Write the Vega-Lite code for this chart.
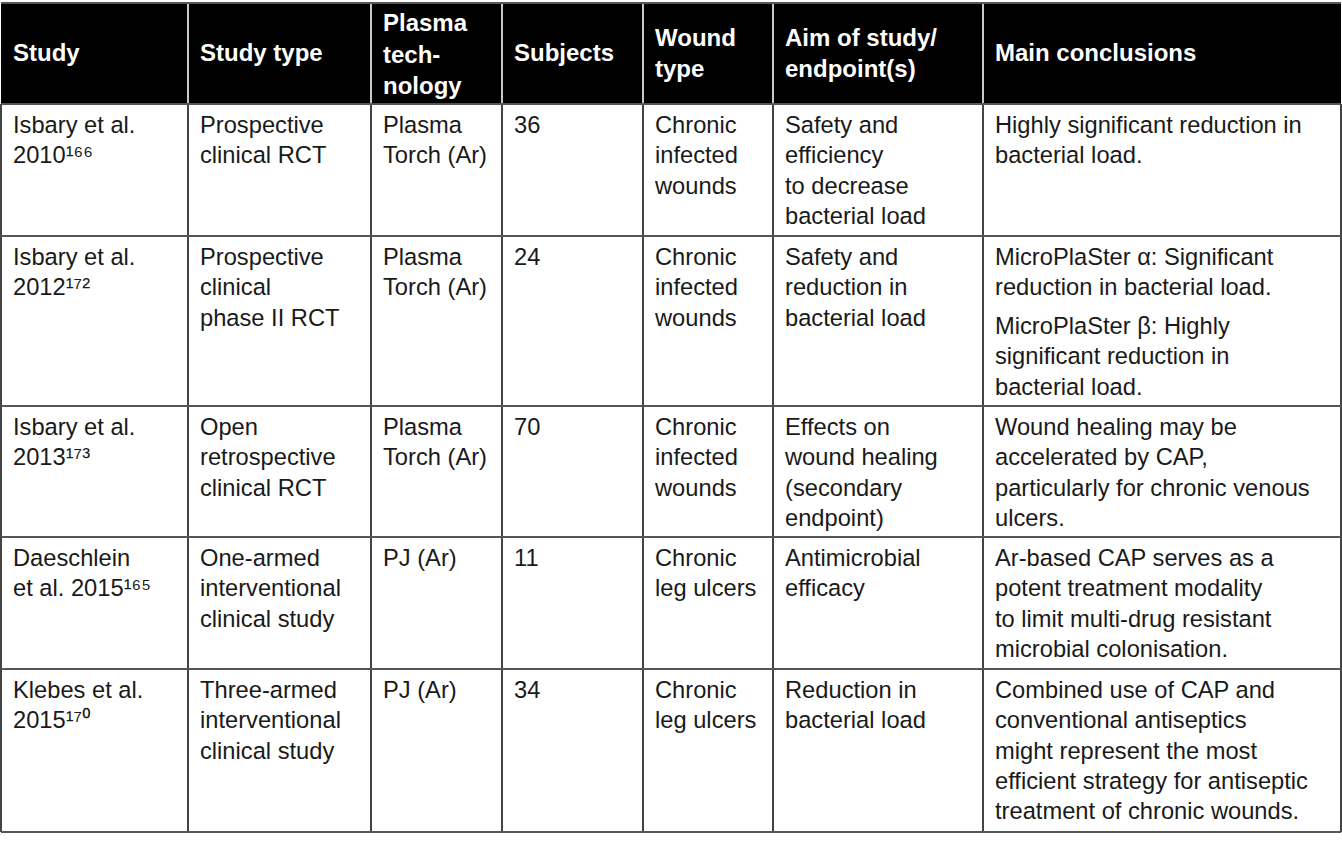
{
  "$schema": "https://vega.github.io/schema/vega-lite/v6.json",
  "width": 1342,
  "height": 843,
  "padding": 0,
  "autosize": {"type": "none"},
  "background": "white",
  "config": {"view": {"stroke": null}},
  "datasets": {
    "header": [
      {"row": 0, "col": 0, "lines": ["Study"]},
      {"row": 0, "col": 1, "lines": ["Study type"]},
      {"row": 0, "col": 2, "lines": ["Plasma", "tech-", "nology"]},
      {"row": 0, "col": 3, "lines": ["Subjects"]},
      {"row": 0, "col": 4, "lines": ["Wound", "type"]},
      {"row": 0, "col": 5, "lines": ["Aim of study/", "endpoint(s)"]},
      {"row": 0, "col": 6, "lines": ["Main conclusions"]}
    ],
    "body": [
      {"row": 1, "col": 0, "lines": ["Isbary et al.", "2010¹⁶⁶"]},
      {"row": 1, "col": 1, "lines": ["Prospective", "clinical RCT"]},
      {"row": 1, "col": 2, "lines": ["Plasma", "Torch (Ar)"]},
      {"row": 1, "col": 3, "lines": ["36"]},
      {"row": 1, "col": 4, "lines": ["Chronic", "infected", "wounds"]},
      {"row": 1, "col": 5, "lines": ["Safety and", "efficiency", "to decrease", "bacterial load"]},
      {"row": 1, "col": 6, "lines": ["Highly significant reduction in", "bacterial load."]},
      {"row": 2, "col": 0, "lines": ["Isbary et al.", "2012¹⁷²"]},
      {"row": 2, "col": 1, "lines": ["Prospective", "clinical", "phase II RCT"]},
      {"row": 2, "col": 2, "lines": ["Plasma", "Torch (Ar)"]},
      {"row": 2, "col": 3, "lines": ["24"]},
      {"row": 2, "col": 4, "lines": ["Chronic", "infected", "wounds"]},
      {"row": 2, "col": 5, "lines": ["Safety and", "reduction in", "bacterial load"]},
      {"row": 2, "col": 6, "lines": ["MicroPlaSter α: Significant", "reduction in bacterial load."]},
      {"row": 3, "col": 0, "lines": ["Isbary et al.", "2013¹⁷³"]},
      {"row": 3, "col": 1, "lines": ["Open", "retrospective", "clinical RCT"]},
      {"row": 3, "col": 2, "lines": ["Plasma", "Torch (Ar)"]},
      {"row": 3, "col": 3, "lines": ["70"]},
      {"row": 3, "col": 4, "lines": ["Chronic", "infected", "wounds"]},
      {"row": 3, "col": 5, "lines": ["Effects on", "wound healing", "(secondary", "endpoint)"]},
      {"row": 3, "col": 6, "lines": ["Wound healing may be", "accelerated by CAP,", "particularly for chronic venous", "ulcers."]},
      {"row": 4, "col": 0, "lines": ["Daeschlein", "et al. 2015¹⁶⁵"]},
      {"row": 4, "col": 1, "lines": ["One-armed", "interventional", "clinical study"]},
      {"row": 4, "col": 2, "lines": ["PJ (Ar)"]},
      {"row": 4, "col": 3, "lines": ["11"]},
      {"row": 4, "col": 4, "lines": ["Chronic", "leg ulcers"]},
      {"row": 4, "col": 5, "lines": ["Antimicrobial", "efficacy"]},
      {"row": 4, "col": 6, "lines": ["Ar-based CAP serves as a", "potent treatment modality", "to limit multi-drug resistant", "microbial colonisation."]},
      {"row": 5, "col": 0, "lines": ["Klebes et al.", "2015¹⁷⁰"]},
      {"row": 5, "col": 1, "lines": ["Three-armed", "interventional", "clinical study"]},
      {"row": 5, "col": 2, "lines": ["PJ (Ar)"]},
      {"row": 5, "col": 3, "lines": ["34"]},
      {"row": 5, "col": 4, "lines": ["Chronic", "leg ulcers"]},
      {"row": 5, "col": 5, "lines": ["Reduction in", "bacterial load"]},
      {"row": 5, "col": 6, "lines": ["Combined use of CAP and", "conventional antiseptics", "might represent the most", "efficient strategy for antiseptic", "treatment of chronic wounds."]}
    ],
    "body2": [
      {"row": 2, "col": 6, "lines": ["MicroPlaSter β: Highly", "significant reduction in", "bacterial load."]}
    ],
    "hlines": [
      {"row": 0}, {"row": 1}, {"row": 2}, {"row": 3}, {"row": 4}, {"row": 5}, {"row": 6}
    ],
    "vlines": [
      {"col": 0}, {"col": 1}, {"col": 2}, {"col": 3}, {"col": 4}, {"col": 5}, {"col": 6}, {"col": 7}
    ],
    "hvlines": [
      {"col": 1}, {"col": 2}, {"col": 3}, {"col": 4}, {"col": 5}, {"col": 6}
    ]
  },
  "layer": [
    {
      "data": {"values": [{}]},
      "mark": {"type": "rect", "color": "#000000"},
      "encoding": {
        "x": {"datum": 0, "type": "quantitative", "axis": null, "scale": {"domain": [0, 1, 2, 3, 4, 5, 6, 7], "range": [1, 188, 371, 502, 643, 773, 983, 1341], "zero": false, "nice": false}},
        "x2": {"datum": 7},
        "y": {"datum": 0, "type": "quantitative", "axis": null, "scale": {"domain": [0, 1, 2, 3, 4, 5, 6], "range": [3, 104, 236, 406, 537, 669, 832], "zero": false, "nice": false}},
        "y2": {"datum": 1}
      }
    },
    {
      "data": {"name": "vlines"},
      "mark": {"type": "rule", "color": "#444444", "strokeWidth": 2},
      "encoding": {
        "x": {"field": "col", "type": "quantitative", "axis": null, "scale": {"domain": [0, 1, 2, 3, 4, 5, 6, 7], "range": [1, 188, 371, 502, 643, 773, 983, 1341], "zero": false, "nice": false}},
        "y": {"datum": 1, "type": "quantitative", "axis": null, "scale": {"domain": [0, 1, 2, 3, 4, 5, 6], "range": [3, 104, 236, 406, 537, 669, 832], "zero": false, "nice": false}},
        "y2": {"datum": 6}
      }
    },
    {
      "data": {"name": "hvlines"},
      "mark": {"type": "rule", "color": "#c8c8c8", "strokeWidth": 2},
      "encoding": {
        "x": {"field": "col", "type": "quantitative", "axis": null, "scale": {"domain": [0, 1, 2, 3, 4, 5, 6, 7], "range": [1, 188, 371, 502, 643, 773, 983, 1341], "zero": false, "nice": false}},
        "y": {"datum": 0, "type": "quantitative", "axis": null, "scale": {"domain": [0, 1, 2, 3, 4, 5, 6], "range": [3, 104, 236, 406, 537, 669, 832], "zero": false, "nice": false}},
        "y2": {"datum": 1}
      }
    },
    {
      "data": {"name": "hlines"},
      "mark": {"type": "rule", "color": "#555555", "strokeWidth": 2},
      "encoding": {
        "y": {"field": "row", "type": "quantitative", "axis": null, "scale": {"domain": [0, 1, 2, 3, 4, 5, 6], "range": [3, 104, 236, 406, 537, 669, 832], "zero": false, "nice": false}},
        "x": {"datum": 0, "type": "quantitative", "axis": null, "scale": {"domain": [0, 1, 2, 3, 4, 5, 6, 7], "range": [1, 188, 371, 502, 643, 773, 983, 1341], "zero": false, "nice": false}},
        "x2": {"datum": 7}
      }
    },
    {
      "data": {"name": "header"},
      "transform": [{"filter": "length(datum.lines) == 1"}],
      "mark": {"type": "text", "align": "left", "baseline": "middle", "dx": 12, "dy": 51, "font": "Liberation Sans", "fontSize": 24, "fontWeight": "bold", "lineHeight": 31, "color": "#ffffff"},
      "encoding": {
        "x": {"field": "col", "type": "quantitative", "axis": null, "scale": {"domain": [0, 1, 2, 3, 4, 5, 6, 7], "range": [1, 188, 371, 502, 643, 773, 983, 1341], "zero": false, "nice": false}},
        "y": {"field": "row", "type": "quantitative", "axis": null, "scale": {"domain": [0, 1, 2, 3, 4, 5, 6], "range": [3, 104, 236, 406, 537, 669, 832], "zero": false, "nice": false}},
        "text": {"field": "lines", "type": "nominal"}
      }
    },
    {
      "data": {"name": "header"},
      "transform": [{"filter": "length(datum.lines) == 2"}],
      "mark": {"type": "text", "align": "left", "baseline": "middle", "dx": 12, "dy": 36, "font": "Liberation Sans", "fontSize": 24, "fontWeight": "bold", "lineHeight": 31, "color": "#ffffff"},
      "encoding": {
        "x": {"field": "col", "type": "quantitative", "axis": null, "scale": {"domain": [0, 1, 2, 3, 4, 5, 6, 7], "range": [1, 188, 371, 502, 643, 773, 983, 1341], "zero": false, "nice": false}},
        "y": {"field": "row", "type": "quantitative", "axis": null, "scale": {"domain": [0, 1, 2, 3, 4, 5, 6], "range": [3, 104, 236, 406, 537, 669, 832], "zero": false, "nice": false}},
        "text": {"field": "lines", "type": "nominal"}
      }
    },
    {
      "data": {"name": "header"},
      "transform": [{"filter": "length(datum.lines) == 3"}],
      "mark": {"type": "text", "align": "left", "baseline": "middle", "dx": 12, "dy": 21, "font": "Liberation Sans", "fontSize": 24, "fontWeight": "bold", "lineHeight": 31.5, "color": "#ffffff"},
      "encoding": {
        "x": {"field": "col", "type": "quantitative", "axis": null, "scale": {"domain": [0, 1, 2, 3, 4, 5, 6, 7], "range": [1, 188, 371, 502, 643, 773, 983, 1341], "zero": false, "nice": false}},
        "y": {"field": "row", "type": "quantitative", "axis": null, "scale": {"domain": [0, 1, 2, 3, 4, 5, 6], "range": [3, 104, 236, 406, 537, 669, 832], "zero": false, "nice": false}},
        "text": {"field": "lines", "type": "nominal"}
      }
    },
    {
      "data": {"name": "body"},
      "mark": {"type": "text", "align": "left", "baseline": "alphabetic", "dx": 12, "dy": 29, "font": "Liberation Sans, Noto Sans, DejaVu Sans", "fontSize": 23.7, "lineHeight": 30.3, "color": "#1a1a1a"},
      "encoding": {
        "x": {"field": "col", "type": "quantitative", "axis": null, "scale": {"domain": [0, 1, 2, 3, 4, 5, 6, 7], "range": [1, 188, 371, 502, 643, 773, 983, 1341], "zero": false, "nice": false}},
        "y": {"field": "row", "type": "quantitative", "axis": null, "scale": {"domain": [0, 1, 2, 3, 4, 5, 6], "range": [3, 104, 236, 406, 537, 669, 832], "zero": false, "nice": false}},
        "text": {"field": "lines", "type": "nominal"}
      }
    },
    {
      "data": {"name": "body2"},
      "mark": {"type": "text", "align": "left", "baseline": "alphabetic", "dx": 12, "dy": 98, "font": "Liberation Sans, Noto Sans, DejaVu Sans", "fontSize": 23.7, "lineHeight": 30.3, "color": "#1a1a1a"},
      "encoding": {
        "x": {"field": "col", "type": "quantitative", "axis": null, "scale": {"domain": [0, 1, 2, 3, 4, 5, 6, 7], "range": [1, 188, 371, 502, 643, 773, 983, 1341], "zero": false, "nice": false}},
        "y": {"field": "row", "type": "quantitative", "axis": null, "scale": {"domain": [0, 1, 2, 3, 4, 5, 6], "range": [3, 104, 236, 406, 537, 669, 832], "zero": false, "nice": false}},
        "text": {"field": "lines", "type": "nominal"}
      }
    }
  ]
}
